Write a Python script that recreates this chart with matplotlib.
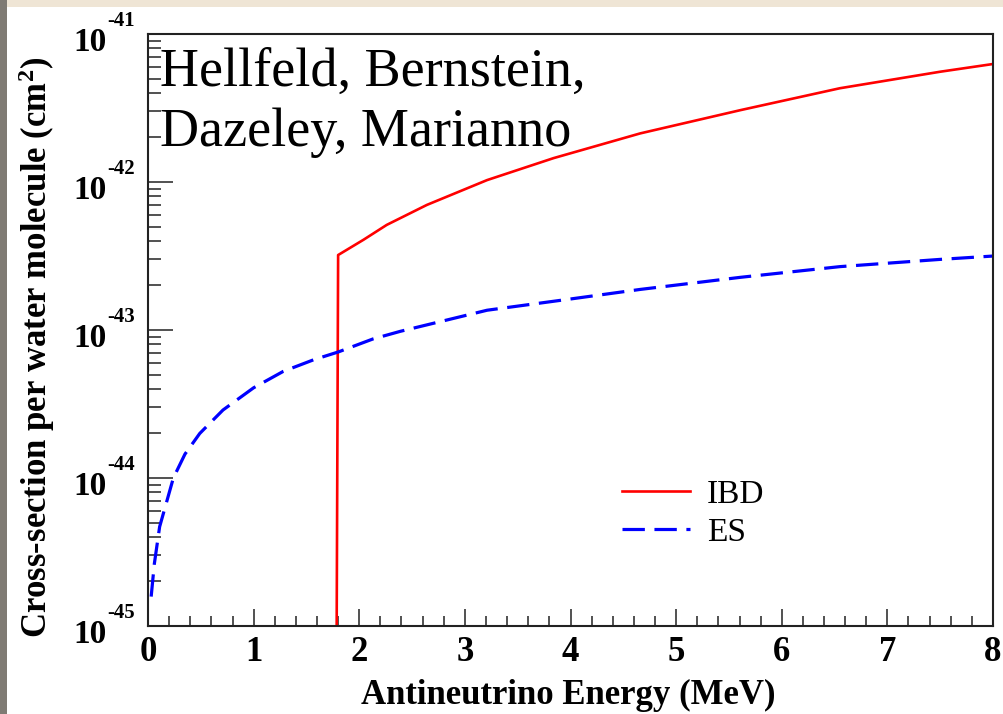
import numpy as np
import matplotlib
matplotlib.use("Agg")
import matplotlib.pyplot as plt
from matplotlib.ticker import LogLocator, MultipleLocator, NullFormatter, FixedLocator
from matplotlib.patches import Rectangle

plt.rcParams['font.family'] = ['Liberation Serif', 'DejaVu Serif']
plt.rcParams['mathtext.fontset'] = 'custom'
plt.rcParams['mathtext.rm'] = 'Liberation Serif:bold'
plt.rcParams['mathtext.bf'] = 'Liberation Serif:bold'
plt.rcParams['mathtext.it'] = 'Liberation Serif:bold:italic'

# IBD cross-section (cm^2 per water molecule)
ibd_energy = [1.786, 1.80, 2.04, 2.26, 2.64, 3.21, 3.84, 4.66, 5.61, 6.55, 7.50, 8.00]
ibd_xsec = [9e-46, 3.21e-43, 4.07e-43, 5.13e-43, 7.0e-43, 1.03e-42, 1.45e-42,
            2.13e-42, 3.06e-42, 4.30e-42, 5.56e-42, 6.27e-42]

# elastic scattering
es_energy = [0.03, 0.06, 0.11, 0.24, 0.35, 0.49, 0.71, 1.00, 1.28, 1.57, 1.80,
             2.13, 2.39, 3.21, 4.00, 4.66, 5.61, 6.55, 7.50, 8.00]
es_xsec = [1.58e-45, 2.63e-45, 4.68e-45, 1.0e-44, 1.45e-44, 2.0e-44, 2.88e-44,
           4.07e-44, 5.25e-44, 6.3e-44, 7.1e-44, 8.7e-44, 9.8e-44, 1.36e-43,
           1.62e-43, 1.88e-43, 2.27e-43, 2.68e-43, 3.0e-43, 3.16e-43]

x_ticks = [0, 1, 2, 3, 4, 5, 6, 7, 8]
y_decades = [-45, -44, -43, -42, -41]

fig = plt.figure(figsize=(10.04, 7.14), dpi=100)
fig.patch.set_facecolor('white')

# slide background bits around the picture
fig.patches.append(Rectangle((0, 1 - 7 / 714), 1, 7 / 714, transform=fig.transFigure,
                             facecolor='#efe5d5', edgecolor='none', zorder=0))
fig.patches.append(Rectangle((0, 0), 7 / 1004, 1, transform=fig.transFigure,
                             facecolor='#7f7b74', edgecolor='none', zorder=0))

ax = fig.add_axes([148 / 1004, 1 - 626 / 714, (993 - 148) / 1004, (626 - 34) / 714])

ax.plot(ibd_energy, ibd_xsec, color='#ff0000', lw=1.9, label='IBD')
ax.plot(es_energy, es_xsec, color='#0000ff', lw=2.3, dashes=(7, 3), label='ES')

ax.set_yscale('log')
ax.set_xlim(0, 8)
ax.set_ylim(1e-45, 1e-41)

for s in ax.spines.values():
    s.set_linewidth(1.5)
    s.set_color('#222222')

ax.xaxis.set_major_locator(FixedLocator(x_ticks))
ax.xaxis.set_minor_locator(MultipleLocator(0.2))
ax.set_xticklabels([str(t) for t in x_ticks], fontsize=25, fontweight='bold')
ax.tick_params(axis='x', which='major', direction='in', length=12, width=1.1,
               pad=7, color='#222222', top=False)
ax.tick_params(axis='x', which='minor', direction='in', length=7, width=1.1,
               color='#222222', top=False)

ax.yaxis.set_major_locator(FixedLocator([10.0 ** d for d in y_decades]))
ax.yaxis.set_minor_locator(LogLocator(base=10, subs=np.arange(2, 10), numticks=20))
ax.yaxis.set_major_formatter(NullFormatter())
ax.yaxis.set_minor_formatter(NullFormatter())
ax.tick_params(axis='y', which='major', direction='in', length=18, width=1.1,
               color='#222222', right=False)
ax.tick_params(axis='y', which='minor', direction='in', length=9.4, width=1.1,
               color='#222222', right=False)

# ROOT style "10^-n" labels
for d in y_decades:
    ax.annotate('10', xy=(0, 10.0 ** d), xycoords=('axes fraction', 'data'),
                xytext=(-29.5, -6), textcoords='offset points', ha='right', va='center',
                fontsize=24, fontweight='bold', annotation_clip=False)
    ax.annotate(str(d), xy=(0, 10.0 ** d), xycoords=('axes fraction', 'data'),
                xytext=(-29.5, 9.5), textcoords='offset points', ha='left', va='center',
                fontsize=15, fontweight='bold', annotation_clip=False)

ax.set_xlabel('Antineutrino Energy (MeV)', fontsize=25, fontweight='bold')
ax.xaxis.set_label_coords(0.497, -0.090)
ax.set_ylabel('Cross-section per water molecule (cm$^2$)', fontsize=25, fontweight='bold')
ax.yaxis.set_label_coords(-0.108, 0.471)

ax.text(0.014, 0.978, 'Hellfeld, Bernstein,\nDazeley, Marianno', transform=ax.transAxes,
        ha='left', va='top', fontsize=39, linespacing=1.25)

ax.legend(loc='upper left', bbox_to_anchor=(0.561, 0.248), frameon=False, fontsize=24,
          handlelength=2.05, handletextpad=0.5, labelspacing=0.22, borderpad=0,
          borderaxespad=0)

fig.savefig('out.png', dpi=100, facecolor=fig.get_facecolor())
